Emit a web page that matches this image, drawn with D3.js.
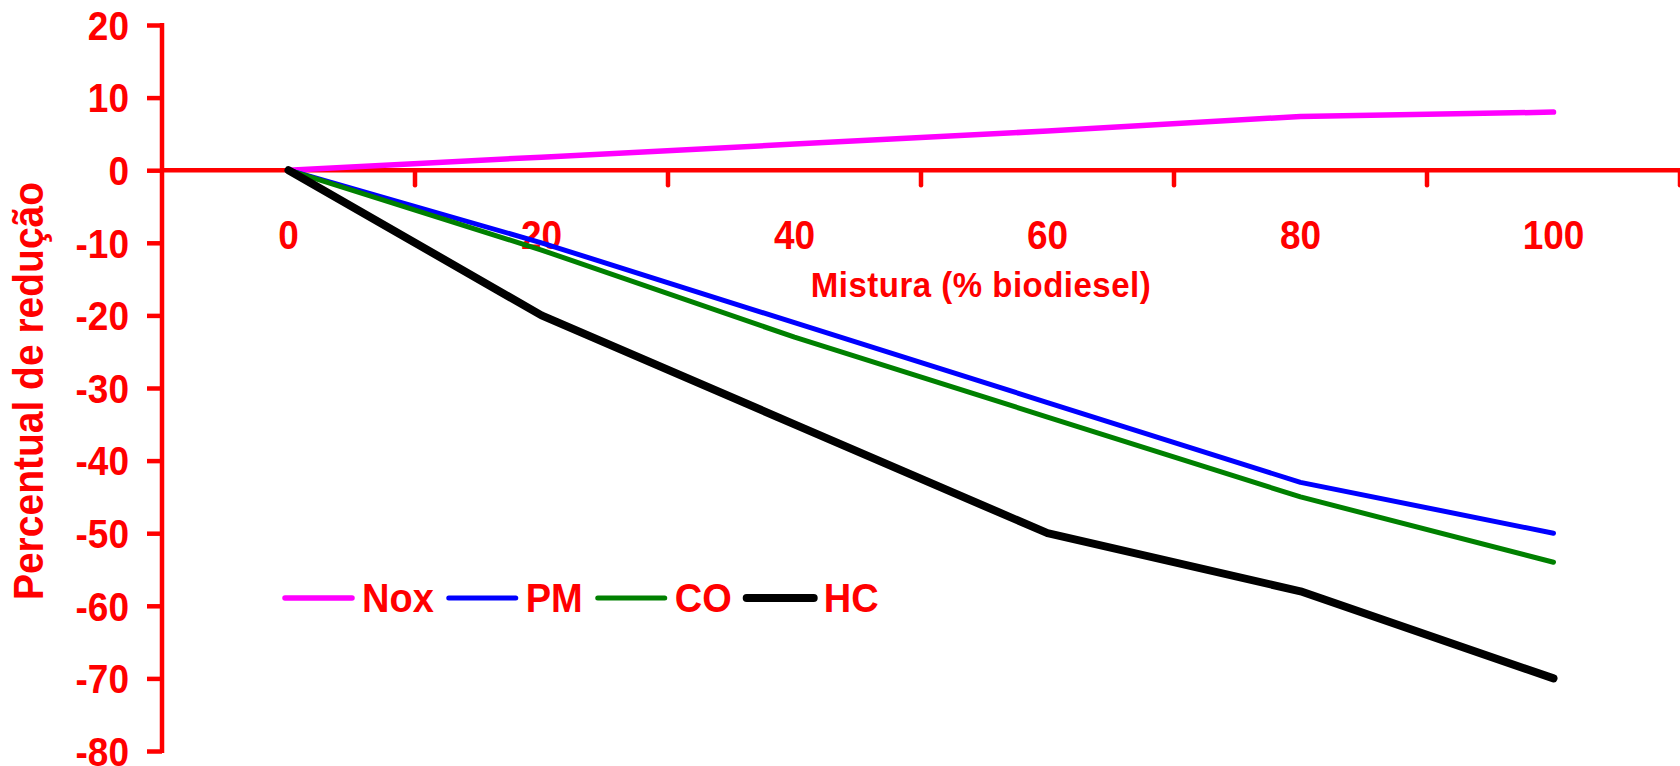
<!DOCTYPE html>
<html>
<head>
<meta charset="utf-8">
<script src="https://cdn.jsdelivr.net/npm/d3@7"></script>
<style>
  body { margin: 0; background: #fff; }
  svg text { font-family: "Liberation Sans", Arial, sans-serif; font-weight: bold; fill: #ff0000; }
</style>
</head>
<body>
<div id="chart"></div>
<script>
// data
const categories = [0, 20, 40, 60, 80, 100];
const nox = [0, 1.8, 3.6, 5.4, 7.4, 8.0];
const pm = [0, -10, -21, -32, -43, -50];
const co = [0, -11, -23, -34, -45, -54];
const hc = [0, -20, -35, -50, -58, -70];
const seriesNames = ["Nox", "PM", "CO", "HC"];
const yTicks = [20, 10, 0, -10, -20, -30, -40, -50, -60, -70, -80];

const width = 1680, height = 766;
const axisColor = "#ff0000";
const stretch = 1.08; // the picture's text is a bit taller than normal

const svg = d3.select("#chart").append("svg")
  .attr("width", width)
  .attr("height", height);

const x = d3.scaleBand()
  .domain(categories)
  .range([162, 1680])
  .padding(0);

const y = d3.scaleLinear()
  .domain([-80, 20])
  .range([751, 25]);

const xc = function(c) { return x(c) + x.bandwidth() / 2; };

// y axis
const yAxis = svg.append("g")
  .attr("transform", "translate(162,0)")
  .call(d3.axisLeft(y).tickValues(yTicks).tickSize(15).tickPadding(18)
    .tickFormat(function(d) { return String(d); }));
yAxis.select(".domain").remove();
yAxis.selectAll(".tick line").attr("stroke", axisColor).attr("stroke-width", 4.5);
yAxis.selectAll("text")
  .style("font-size", "37px")
  .attr("dy", "0.36em")
  .attr("transform", "scale(1," + stretch + ")");
yAxis.append("line")
  .attr("x1", 0).attr("x2", 0)
  .attr("y1", y(20) - 2).attr("y2", y(-80) + 2)
  .attr("stroke", axisColor).attr("stroke-width", 4.5);

// x axis sits at y = 0, ticks between categories
const xAxis = svg.append("g")
  .attr("transform", "translate(0," + y(0) + ")")
  .call(d3.axisBottom(x).tickSize(0));
xAxis.select(".domain").remove();
xAxis.selectAll("text")
  .style("font-size", "37px")
  .attr("y", 79 / stretch)
  .attr("dy", 0)
  .attr("transform", "scale(1," + stretch + ")");
xAxis.selectAll(".tickmark")
  .data(categories.slice(1).map(function(c) { return x(c); }).concat([x.range()[1]]))
  .enter().append("line")
  .attr("class", "tickmark")
  .attr("x1", function(d) { return d; })
  .attr("x2", function(d) { return d; })
  .attr("y1", 0).attr("y2", 15)
  .attr("stroke", axisColor).attr("stroke-width", 4.5)
  .attr("stroke-linecap", "round");
xAxis.append("line")
  .attr("x1", 160).attr("x2", 1680)
  .attr("y1", 0).attr("y2", 0)
  .attr("stroke", axisColor).attr("stroke-width", 4.5);

// axis titles
svg.append("text")
  .attr("transform", "translate(981,297) scale(1," + stretch + ")")
  .attr("text-anchor", "middle")
  .style("font-size", "33px")
  .style("letter-spacing", "0.5px")
  .text("Mistura (% biodiesel)");

svg.append("text")
  .attr("transform", "translate(43,391) rotate(-90) scale(1," + stretch + ")")
  .attr("text-anchor", "middle")
  .style("font-size", "39px")
  .text("Percentual de redução");

// lines
const series = [
  { name: seriesNames[0], values: nox, color: "#ff00ff", w: 5.5 },
  { name: seriesNames[1], values: pm, color: "#0000ff", w: 5 },
  { name: seriesNames[2], values: co, color: "#008000", w: 5 },
  { name: seriesNames[3], values: hc, color: "#000000", w: 8 }
];

const line = d3.line()
  .x(function(d, i) { return xc(categories[i]); })
  .y(function(d) { return y(d); });

svg.append("g").selectAll("path")
  .data(series)
  .enter().append("path")
  .attr("d", function(d) { return line(d.values); })
  .attr("fill", "none")
  .attr("stroke", function(d) { return d.color; })
  .attr("stroke-width", function(d) { return d.w; })
  .attr("stroke-linejoin", "round")
  .attr("stroke-linecap", "round");

// legend
const legend = svg.append("g").attr("transform", "translate(285,598)");
let lx = 0;
series.forEach(function(s) {
  legend.append("line")
    .attr("x1", lx).attr("x2", lx + 67)
    .attr("y1", 0).attr("y2", 0)
    .attr("stroke", s.color)
    .attr("stroke-width", s.w)
    .attr("stroke-linecap", "round");
  const t = legend.append("text")
    .attr("transform", "translate(" + (lx + 77) + ",14) scale(1," + stretch + ")")
    .style("font-size", "38px")
    .text(s.name);
  lx = lx + 77 + t.node().getComputedTextLength() + 15;
});
</script>
</body>
</html>
